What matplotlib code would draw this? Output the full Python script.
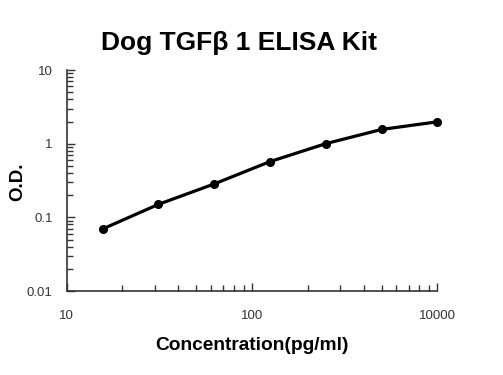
import matplotlib
matplotlib.use("Agg")
import matplotlib.pyplot as plt
from matplotlib.ticker import FixedLocator, LogLocator, NullFormatter

plt.rcParams['font.family'] = ['Liberation Sans', 'DejaVu Sans']

# standard curve
concentration = [15.625, 31.25, 62.5, 125, 250, 500, 1000]
od = [0.0695, 0.150, 0.284, 0.571, 1.0, 1.56, 1.98]

x_ticks = [10, 100, 1000]
x_tick_labels = ["10", "100", "10000"]
y_ticks = [0.01, 0.1, 1, 10]
y_tick_labels = ["0.01", "0.1", "1", "10"]

fig = plt.figure(figsize=(5.03, 3.75), dpi=100)
ax = fig.add_axes([0.1326, 0.224, 0.7368, 0.5893])

ax.plot(concentration, od, color="black", linewidth=2.3, marker="o",
        markersize=5.5, clip_on=False, zorder=3)

ax.set_xscale("log")
ax.set_yscale("log")
ax.set_xlim(10, 1000)
ax.set_ylim(0.01, 10)

ax.xaxis.set_major_locator(FixedLocator(x_ticks))
ax.set_xticklabels(x_tick_labels)
ax.xaxis.set_minor_locator(LogLocator(base=10, subs=range(2, 10)))
ax.xaxis.set_minor_formatter(NullFormatter())
ax.yaxis.set_major_locator(FixedLocator(y_ticks))
ax.set_yticklabels(y_tick_labels)
ax.yaxis.set_minor_locator(LogLocator(base=10, subs=range(2, 10)))
ax.yaxis.set_minor_formatter(NullFormatter())

ax.tick_params(which="major", direction="in", length=6, width=1, color="#333333",
               labelsize=9.5, labelcolor="#333333")
ax.tick_params(which="minor", direction="in", length=4, width=1, color="#333333")
ax.tick_params(axis="x", which="major", pad=14)
ax.tick_params(axis="y", which="major", pad=10)

for side in ["top", "right"]:
    ax.spines[side].set_visible(False)
for side in ["left", "bottom"]:
    ax.spines[side].set_linewidth(1.2)
    ax.spines[side].set_color("#333333")

fig.text(239 / 503, 1 - 43 / 375, "Dog TGFβ 1 ELISA Kit", ha="center", va="center",
         fontsize=19, fontweight="bold")
fig.text(252 / 503, 1 - 345 / 375, "Concentration(pg/ml)", ha="center", va="center",
         fontsize=13.8, fontweight="bold")
fig.text(18 / 503, 1 - 182 / 375, "O.D.", ha="center", va="center", rotation=90,
         fontsize=13.5, fontweight="bold")

fig.savefig("out.png", dpi=100, facecolor="white")
